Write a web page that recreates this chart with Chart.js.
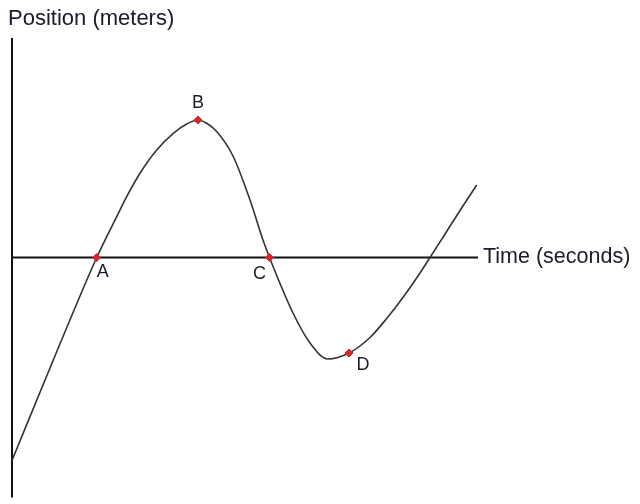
<!DOCTYPE html>
<html>
<head>
<meta charset="utf-8">
<script src="https://cdn.jsdelivr.net/npm/chart.js@4/dist/chart.umd.min.js"></script>
<style>
body { margin: 0; background: #fff; }
#wrap { width: 640px; height: 504px; }
</style>
</head>
<body>
<div id="wrap"><canvas id="motionChart" width="640" height="504"></canvas></div>
<script>
// Curve (time, position)
var curveTime = [0, 4.13, 8.47, 9.47, 10.47, 11.47, 12.8, 14.47, 16.13, 17.47, 18.6, 19.47, 20.47, 22.1, 23.8, 25.1, 25.75, 28.1, 29.8, 31.6, 33.7, 35.8, 37.47, 39.13, 40.8, 41.8, 43.13, 44.8, 46.47];
var curvePos = [-20.3, -10.25, 0, 2.08, 4.08, 6.08, 8.42, 10.75, 12.42, 13.35, 13.75, 13.42, 12.6, 10.15, 5.75, 1.75, 0, -5.55, -8.55, -10.15, -9.55, -8.0, -6.1, -3.95, -1.55, 0, 2.08, 4.7, 7.25];

// Marked points
var pointNames = ['A', 'B', 'C', 'D'];
var pointTime = [8.47, 18.6, 25.75, 33.7];
var pointPos = [0, 13.75, 0, -9.55];

// Label offsets (px) for the marked points
var labelDx = [6, 0, -10, 14];
var labelDy = [15, -17, 17, 12];

var curveData = curveTime.map(function (t, i) { return { x: t, y: curvePos[i] }; });
var markData = pointTime.map(function (t, i) { return { x: t, y: pointPos[i] }; });

// Axes + text
var axesPlugin =
{
    id: 'axesPlugin',
    beforeDatasetsDraw: function (chart)
    {
        var c = chart.ctx;
        var xs = chart.scales.x, ys = chart.scales.y;
        var x0 = xs.getPixelForValue(0), y0 = ys.getPixelForValue(0);
        c.save();
        c.strokeStyle = '#111';
        c.lineWidth = 2;
        c.beginPath();
        c.moveTo(x0, ys.getPixelForValue(21.95));
        c.lineTo(x0, ys.getPixelForValue(-24));
        c.moveTo(x0, y0);
        c.lineTo(xs.getPixelForValue(46.6), y0);
        c.stroke();
        c.restore();
    },
    afterDatasetsDraw: function (chart)
    {
        var c = chart.ctx;
        var xs = chart.scales.x, ys = chart.scales.y;
        c.save();
        c.fillStyle = '#1e1a2a';
        c.font = '22px "Liberation Sans", Arial, sans-serif';
        c.textBaseline = 'middle';
        c.textAlign = 'left';
        c.fillText('Position (meters)', 8, 19);
        c.font = '21.5px "Liberation Sans", Arial, sans-serif';
        c.fillText('Time (seconds)', 483, ys.getPixelForValue(0));
        c.font = '18px "Liberation Sans", Arial, sans-serif';
        c.textAlign = 'center';
        pointNames.forEach(function (n, i)
        {
            c.fillText(n, xs.getPixelForValue(pointTime[i]) + labelDx[i], ys.getPixelForValue(pointPos[i]) + labelDy[i]);
        });
        c.restore();
    }
};

var ctx = document.getElementById('motionChart').getContext('2d');
var myChart = new Chart(ctx,
{
    type: 'line',
    data:
    {
        datasets: [
        {
            label: 'marks',
            data: markData,
            showLine: false,
            pointStyle: 'rectRot',
            pointRadius: 4,
            pointBackgroundColor: '#d9262b',
            pointBorderColor: '#d9262b',
            pointBorderWidth: 1
        },
        {
            label: 'position',
            data: curveData,
            borderColor: '#333',
            borderWidth: 1.6,
            pointRadius: 0,
            cubicInterpolationMode: 'monotone',
            fill: false
        }]
    },
    options:
    {
        responsive: false,
        animation: false,
        layout: { padding: 0, autoPadding: false },
        plugins: { legend: { display: false }, tooltip: { enabled: false } },
        scales:
        {
            x: { type: 'linear', min: -1.2, max: 62.8, display: false },
            y: { type: 'linear', min: -24.65, max: 25.75, display: false }
        }
    },
    plugins: [axesPlugin]
});
</script>
</body>
</html>
